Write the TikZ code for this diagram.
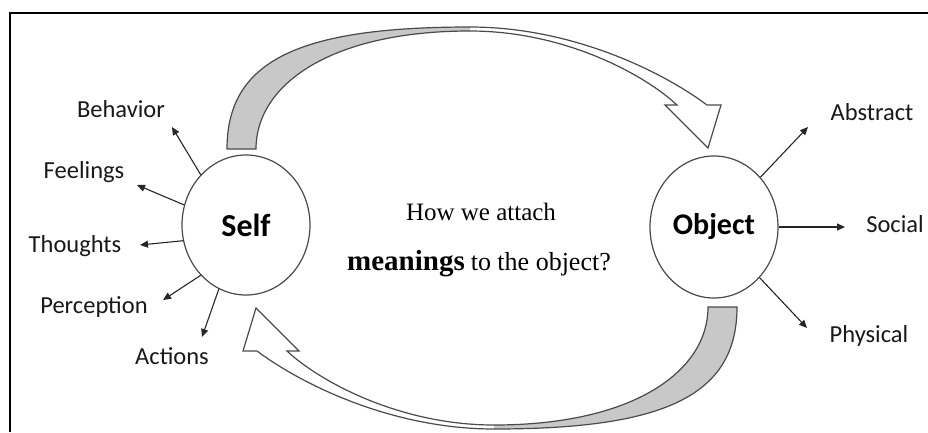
\documentclass[tikz,border=0pt]{standalone}
\usepackage{fontspec}
\setmainfont{Liberation Serif}
\newfontfamily\calibri{Carlito}
\usetikzlibrary{arrows.meta,shapes.geometric}
\definecolor{bandgray}{HTML}{C8C8C8}
\definecolor{edgegray}{HTML}{4A4A4A}
\tikzset{
  ell/.style={ellipse, draw=edgegray, line width=1.2pt, fill=white, inner sep=0pt,
              minimum width=128pt, minimum height=140pt},
  bigtxt/.style={font=\calibri\bfseries\fontsize{32}{36}\selectfont},
  lab/.style={font=\calibri\fontsize{24.5}{28}\selectfont, inner sep=0pt, text=black!90},
  arr/.style={line width=1.1pt, draw=black!85, -{Triangle[length=8pt,width=7pt]}},
  band/.style={draw=edgegray, line width=1.2pt, line join=miter},
  ctext/.style={inner sep=0pt}
}
\begin{document}
\begin{tikzpicture}[x=1pt,y=-1pt]
\useasboundingbox (0,0) rectangle (928,432);
\fill[white] (0,0) rectangle (928,432);
\draw[line width=2.5pt] (10,432) -- (10,13) -- (928,13);

% curved arrows
\foreach \rot in {0,180}{
\begin{scope}[rotate around={\rot:(482,228)}]
  \fill[bandgray] (227,149) .. controls (227,60) and (300,27) .. (470,27)
     -- (470,31) .. controls (330,31) and (256,85) .. (256,149) -- cycle;
  \draw[band] (227,149) .. controls (227,60) and (300,27) .. (470,27)
     .. controls (570,27) and (660,70) .. (707,105) -- (721,105) -- (708,148)
     -- (665,105) -- (677,105) .. controls (645,75) and (565,31) .. (470,31)
     .. controls (330,31) and (256,85) .. (256,149) -- cycle;
\end{scope}}

% main nodes
\node[ell, bigtxt] (self) at (246,225) {Self};
\node[ell, bigtxt, minimum height=142pt, font=\calibri\bfseries\fontsize{30}{34}\selectfont] (object) at (714,227) {Object};

% labels
\node[lab] (beh) at (121,109) {Behavior};
\node[lab] (fee) at (84,172) {Feelings};
\node[lab] (tho) at (75,246) {Thoughts};
\node[lab] (per) at (94,307) {Perception};
\node[lab] (act) at (172,356) {Actions};
\node[lab] (abs) at (872,112) {Abstract};
\node[lab] (soc) at (895,224) {Social};
\node[lab] (phy) at (869,336) {Physical};

\coordinate (behE) at (172,127);
\coordinate (feeE) at (137,185);
\coordinate (thoE) at (140,245);
\coordinate (perE) at (163,300);
\coordinate (actE) at (202,337);
\coordinate (absE) at (808,127);
\coordinate (socE) at (845,227);
\coordinate (phyE) at (807,328);

\draw[arr] (self.132) -- (behE);
\draw[arr] (self.162) -- (feeE);
\draw[arr] (self.194) -- (thoE);
\draw[arr] (self.228) -- (perE);
\draw[arr] (self.247) -- (actE);
\draw[arr] (object.47) -- (absE);
\draw[arr] (object.0) -- (socE);
\draw[arr] (object.-48) -- (phyE);

% centre text
\node[ctext, anchor=base, font=\fontsize{25}{30}\selectfont] (q1) at (481,220) {How we attach};
\node[ctext, anchor=base] (q2) at (479,270) {{\bfseries\fontsize{29}{34}\selectfont meanings}\hspace{6pt}{\fontsize{26}{30}\selectfont to the object?}};
\end{tikzpicture}
\end{document}
